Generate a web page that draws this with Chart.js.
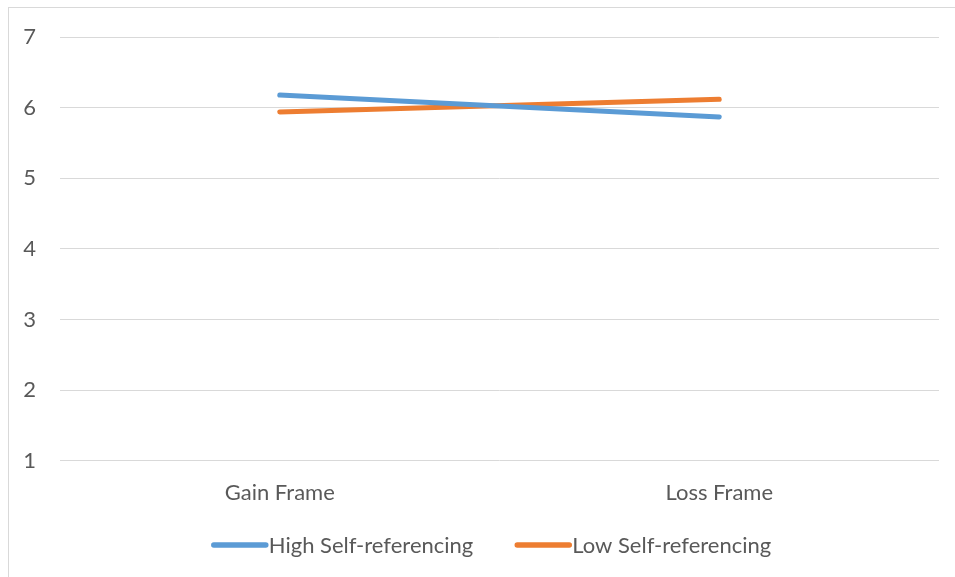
<!DOCTYPE html>
<html>
<head>
<meta charset="utf-8">
<script src="https://cdn.jsdelivr.net/npm/chart.js@4"></script>
<style>
  html, body { margin: 0; padding: 0; background: #ffffff; }
  body { width: 955px; height: 577px; position: relative; overflow: hidden; }
  .frame { position: absolute; left: 8px; top: 7px; width: 960px; height: 590px; border: 1px solid #d9d9d9; box-sizing: border-box; }
  #chart { position: absolute; left: 0; top: 0; }
</style>
</head>
<body>
<div class="frame"></div>
<canvas id="chart" width="955" height="577"></canvas>
<script>
// Categories and series
const frames = ['Gain Frame', 'Loss Frame'];
const highSelfReferencing = [6.18, 5.87];
const lowSelfReferencing = [5.94, 6.12];
const seriesNames = ['High Self-referencing', 'Low Self-referencing'];
const yTicks = [1, 2, 3, 4, 5, 6, 7];

const FONT = 'Lato, "Open Sans", sans-serif';
const TEXT = '#595959';

// Legend drawn below the axis: short line swatch followed by the series name
const bottomLegend = {
  id: 'bottomLegend',
  afterDraw(chart) {
    const ctx = chart.ctx;
    const lineLen = 55, gapText = 3, itemGap = 41, y = 545;
    ctx.save();
    ctx.font = '22px ' + FONT;
    const items = chart.data.datasets.map(ds => ({
      label: ds.label, color: ds.borderColor, w: ctx.measureText(ds.label).width
    }));
    const total = items.reduce((s, it) => s + lineLen + gapText + it.w, 0) + itemGap * (items.length - 1);
    let x = 491 - total / 2;
    items.forEach(it => {
      ctx.strokeStyle = it.color;
      ctx.lineWidth = 5.5;
      ctx.lineCap = 'round';
      ctx.beginPath();
      ctx.moveTo(x + 3, y);
      ctx.lineTo(x + lineLen, y);
      ctx.stroke();
      ctx.fillStyle = TEXT;
      ctx.textBaseline = 'middle';
      ctx.textAlign = 'left';
      ctx.fillText(it.label, x + lineLen + gapText, y + 1);
      x += lineLen + gapText + it.w + itemGap;
    });
    ctx.restore();
  }
};

new Chart(document.getElementById('chart'), {
  type: 'line',
  data: {
    labels: frames,
    datasets: [
      {
        label: seriesNames[0],
        data: highSelfReferencing,
        borderColor: '#5B9BD5',
        backgroundColor: '#5B9BD5',
        borderWidth: 5,
        borderCapStyle: 'round',
        pointRadius: 0,
        tension: 0
      },
      {
        label: seriesNames[1],
        data: lowSelfReferencing,
        borderColor: '#ED7D31',
        backgroundColor: '#ED7D31',
        borderWidth: 5,
        borderCapStyle: 'round',
        pointRadius: 0,
        tension: 0
      }
    ]
  },
  options: {
    responsive: false,
    animation: false,
    layout: { padding: { left: 0, right: 16, top: 23, bottom: 60 } },
    plugins: {
      legend: { display: false },
      tooltip: { enabled: false }
    },
    scales: {
      x: {
        offset: true,
        grid: { display: false },
        border: { display: false },
        ticks: { color: TEXT, font: { family: FONT, size: 22 }, padding: 11 }
      },
      y: {
        min: yTicks[0],
        max: yTicks[yTicks.length - 1],
        afterBuildTicks(scale) { scale.ticks = yTicks.map(v => ({ value: v })); },
        afterFit(scale) { scale.width = 60; },
        grid: { color: '#d9d9d9', lineWidth: 1, drawTicks: false },
        border: { display: false },
        ticks: { color: TEXT, font: { family: FONT, size: 22 }, padding: 24 }
      }
    }
  },
  plugins: [bottomLegend]
});
</script>
</body>
</html>
